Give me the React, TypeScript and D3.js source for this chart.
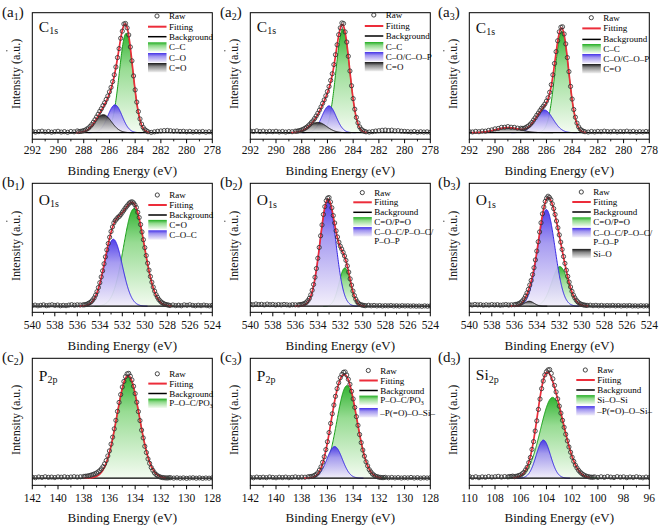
import React from "react";
import * as d3 from "d3";

// ---------- tick labels ----------
const cTicks = [292, 290, 288, 286, 284, 282, 280, 278];
const oTicks = [540, 538, 536, 534, 532, 530, 528, 526, 524];
const pTicks = [142, 140, 138, 136, 134, 132, 130, 128];
const siTicks = [110, 108, 106, 104, 102, 100, 98, 96];

// ---------- raw spectra: intensity (a.u.) every 0.25 eV from the left axis end ----------
const a1Raw = [1.2, 0.6, 1.0, 1.4, 0.7, 1.1, 0.5, 0.9, 1.3, 0.6, 1.0, 0.4, 1.1, 0.8, 1.6, 1.2, 1.9, 3.4, 5.8, 9.6, 14.4, 19.6, 24.8, 30.5, 37.4, 46.8, 60.2, 77.0, 93.0, 100.0, 89.5, 65.8, 39.2, 19.4, 7.9, 2.8, 0.9, 0.3, 0.8, 1.3, 1.6, 1.9, 2.1, 1.8, 1.4, 1.6, 1.1, 1.3, 0.8, 1.2, 0.6, 1.0, 0.7, 1.1, 0.5, 0.9, 0.6];
const a2Raw = [1.5, 1.1, 1.7, 1.0, 1.4, 0.8, 1.2, 0.9, 1.3, 0.7, 1.1, 0.6, 1.0, 0.9, 1.4, 1.8, 2.6, 4.0, 6.2, 9.3, 13.0, 17.8, 23.6, 30.0, 37.8, 47.9, 62.4, 80.5, 96.0, 100.0, 83.0, 56.5, 31.2, 14.0, 5.4, 1.9, 0.8, 0.6, 1.0, 1.5, 1.8, 2.2, 2.4, 2.0, 2.3, 1.7, 1.9, 1.4, 1.2, 1.0, 0.7, 1.1, 0.5, 0.9, 0.6, 0.8, 0.4];
const a3Raw = [1.0, 0.7, 1.2, 0.9, 1.5, 1.4, 2.1, 2.6, 3.5, 3.9, 4.9, 5.0, 5.6, 5.0, 4.9, 4.2, 4.1, 4.0, 5.5, 7.8, 11.6, 16.0, 20.3, 24.2, 28.9, 37.0, 53.0, 74.2, 92.4, 97.0, 81.3, 55.9, 30.8, 14.2, 5.4, 2.0, 0.9, 0.6, 1.1, 0.7, 1.2, 0.9, 1.4, 1.0, 0.8, 1.3, 0.7, 1.1, 0.9, 1.4, 0.8, 1.2, 0.6, 1.0, 0.7, 1.1, 0.8];
const b1Raw = [0.6, 1.0, 0.4, 0.8, 1.2, 0.5, 0.9, 1.3, 0.7, 1.1, 0.4, 0.8, 0.5, 1.0, 1.4, 0.9, 1.3, 1.1, 1.2, 1.5, 2.6, 4.3, 7.6, 13.3, 21.5, 32.4, 45.2, 57.4, 68.4, 76.3, 80.0, 82.4, 85.9, 89.6, 92.8, 95.3, 94.6, 90.4, 81.2, 68.0, 53.6, 39.4, 27.2, 17.5, 10.6, 6.1, 3.4, 1.9, 1.2, 0.6, 1.1, 0.5, 0.9, 0.4, 1.2, 0.8, 1.3, 0.7, 0.4, 0.9, 0.5, 1.0, 0.6, 0.3, 0.8];
const b2Raw = [1.8, 1.3, 2.0, 1.5, 1.7, 1.2, 1.9, 1.4, 1.6, 1.1, 1.5, 1.2, 1.6, 1.3, 1.0, 1.4, 1.3, 1.2, 1.6, 2.1, 3.7, 7.2, 14.6, 26.5, 43.9, 64.5, 84.0, 96.6, 99.5, 90.1, 76.2, 63.4, 55.0, 49.3, 42.0, 31.2, 19.3, 9.8, 4.1, 1.6, 0.9, 0.5, 0.8, 0.4, 0.7, 0.3, 0.6, 0.2, 0.5, 0.3, 0.6, 0.2, 0.4, 0.1, 0.5, 0.2, 0.4, 0.1, 0.3, 0.0, 0.2, -0.1, 0.3, 0.0, 0.2];
const b3Raw = [1.5, 1.1, 1.6, 1.2, 1.4, 0.9, 1.3, 1.0, 1.5, 1.1, 1.4, 0.9, 1.2, 1.5, 1.1, 1.3, 1.4, 1.8, 2.9, 5.1, 9.3, 15.4, 23.6, 35.2, 50.5, 68.0, 84.6, 96.0, 100.7, 97.6, 89.4, 78.0, 65.3, 52.0, 39.2, 27.3, 17.6, 10.3, 5.6, 2.9, 1.6, 1.0, 0.7, 0.9, 0.5, 0.8, 0.4, 0.7, 0.3, 0.6, 0.4, 0.7, 0.3, 0.6, 0.2, 0.5, 0.3, 0.6, 0.2, 0.4, 0.1, 0.5, 0.2, 0.4, 0.1];
const c2Raw = [0.9, 0.5, 1.1, 0.7, 1.3, 0.8, 1.0, 0.6, 1.2, 0.9, 1.3, 0.8, 1.1, 1.4, 1.0, 1.3, 1.6, 1.9, 2.6, 3.5, 4.8, 7.0, 10.6, 16.2, 25.0, 37.6, 53.0, 69.4, 83.5, 93.0, 96.0, 90.0, 77.5, 61.0, 44.0, 29.2, 17.6, 9.8, 4.9, 2.2, 0.9, 0.4, 0.2, 0.5, 0.1, 0.4, 0.0, 0.3, -0.1, 0.2, 0.4, 0.0, 0.3, -0.1, 0.2, 0.0, 0.3];
const c3Raw = [0.8, 0.4, 1.0, 0.6, 0.9, 0.5, 1.1, 0.7, 0.4, 0.9, 0.6, 1.0, 0.5, 0.8, 1.2, 0.7, 1.0, 0.9, 1.3, 1.6, 2.6, 5.0, 10.4, 19.6, 33.4, 50.2, 67.0, 82.0, 92.0, 97.0, 94.5, 86.0, 72.6, 56.4, 40.0, 25.8, 15.0, 7.9, 3.9, 1.7, 0.9, 0.5, 0.8, 0.4, 0.7, 0.3, 0.6, 0.2, 0.5, 0.3, 0.7, 0.2, 0.5, 0.1, 0.4, 0.2, 0.5];
const d3Raw = [1.6, 0.7, 1.3, 0.5, 1.2, 0.9, 1.5, 1.0, 1.3, 1.7, 1.1, 1.5, 1.2, 1.6, 1.4, 2.0, 3.0, 5.4, 10.0, 19.0, 33.5, 52.5, 72.5, 89.0, 97.5, 99.5, 91.0, 79.0, 66.0, 53.0, 40.2, 28.6, 19.2, 12.0, 7.2, 4.2, 2.3, 1.4, 0.9, 1.2, 0.7, 1.3, 0.8, 1.5, 1.0, 0.6, 1.4, 0.9, 1.2, 0.5, 1.1, 0.7, 1.3, 0.8, 0.4, 1.0, 0.6];

// ---------- extra raw points in the peak regions (every 0.25 eV, starting at the given energy) ----------
const a1MidStart = 288.375;
const a1Mid = [1.0, 1.5, 2.4, 4.3, 7.5, 11.9, 16.9, 22.0, 27.4, 33.6, 41.5, 53.0, 68.8, 86.5, 99.6, 96.0, 78.5, 52.0, 28.0, 12.6, 4.8, 1.7];
const a2MidStart = 288.375;
const a2Mid = [1.3, 2.0, 3.2, 5.0, 7.6, 10.9, 15.3, 20.6, 26.9, 33.8, 42.3, 54.0, 71.4, 89.8, 100.5, 92.3, 70.0, 43.0, 21.5, 9.0, 3.3, 1.2];
const a3MidStart = 287.875;
const a3Mid = [3.9, 4.6, 6.4, 9.4, 13.6, 18.0, 22.4, 26.2, 32.0, 44.0, 63.4, 84.2, 96.6, 90.4, 68.8, 42.4, 21.2, 8.8, 3.3, 1.3];
const b1MidStart = 535.375;
const b1Mid = [1.3, 1.9, 3.3, 5.8, 10.2, 17.1, 26.8, 38.8, 51.6, 63.2, 72.6, 78.5, 81.5, 84.0, 87.7, 91.3, 94.4, 95.6, 92.8, 86.0, 74.8, 60.9, 46.4, 33.0, 22.0, 13.8, 8.2, 4.7, 2.7, 1.6, 1.0];
const b2MidStart = 535.625;
const b2Mid = [1.4, 1.8, 2.8, 5.2, 10.4, 19.9, 34.5, 53.8, 74.4, 91.2, 99.0, 95.5, 83.0, 69.0, 58.6, 52.3, 46.0, 36.9, 25.0, 13.9, 6.4, 2.6, 1.2, 0.6];
const b3MidStart = 535.875;
const b3Mid = [1.6, 2.2, 3.8, 6.9, 12.1, 19.4, 29.0, 42.4, 59.0, 76.4, 90.8, 99.0, 99.6, 93.8, 84.0, 71.8, 58.7, 45.5, 33.0, 22.1, 13.6, 7.7, 4.1, 2.1, 1.2, 0.8];
const c2MidStart = 137.875;
const c2Mid = [1.8, 2.2, 3.0, 4.1, 5.8, 8.6, 13.2, 20.4, 31.2, 45.2, 61.2, 76.6, 88.6, 95.6, 93.4, 84.2, 69.6, 52.8, 36.9, 23.5, 13.6, 7.2, 3.4, 1.5, 0.6, 0.3, 0.4];
const c3MidStart = 137.375;
const c3Mid = [1.4, 1.9, 3.5, 7.4, 14.6, 26.2, 41.8, 59.0, 75.0, 87.4, 95.0, 97.3, 90.6, 79.6, 64.8, 48.4, 32.6, 20.2, 11.3, 5.8, 2.8, 1.4, 0.7, 0.6];
const d3MidStart = 106.875;
const d3Mid = [1.5, 1.9, 1.7, 2.6, 4.2, 7.6, 14.3, 26.4, 43.2, 63.0, 82.0, 94.6, 99.2, 96.0, 85.0, 72.6, 59.6, 46.6, 34.2, 23.8, 15.4, 9.4, 5.6, 3.2, 1.8, 1.1, 0.9];

// ---------- fitted components: [centre eV, height a.u., FWHM eV] ----------
type Peak = [number, number, number];
const a1Peaks: Peak[] = [[284.7, 91, 1.25], [285.57, 25.5, 1.3], [286.48, 16.5, 1.5]];
const a2Peaks: Peak[] = [[284.8, 95, 1.25], [285.88, 24.6, 1.3], [286.74, 9.4, 1.6]];
const a3Peaks: Peak[] = [[284.8, 93, 1.25], [286.17, 20.8, 1.6], [289.0, 4.6, 2.2]];
const b1Peaks: Peak[] = [[530.96, 89.4, 2.2], [532.8, 61.3, 1.9]];
const b2Peaks: Peak[] = [[531.6, 35, 1.2], [533.1, 97.5, 1.65]];
const b3Peaks: Peak[] = [[531.95, 36.3, 1.7], [533.15, 88.5, 1.8], [534.67, 4.5, 1.0]];
const c2Peaks: Peak[] = [[134.55, 94, 2.05]];
const c3Peaks: Peak[] = [[134.48, 84.8, 1.89], [135.44, 29, 1.4]];
const d3Peaks: Peak[] = [[103.52, 74, 2.2], [104.24, 34.9, 1.3]];

// ---------- legend labels ----------
const a1Legend = ["Raw", "Fitting", "Background", "C–C", "C–O", "C=O"];
const a2Legend = ["Raw", "Fitting", "Background", "C–C", "C–O/C–O–P", "C=O"];
const a3Legend = ["Raw", "Fitting", "Background", "C–C", "C–O/C–O–P", "C=O"];
const b1Legend = ["Raw", "Fitting", "Background", "C=O", "C–O–C"];
const b2Legend = ["Raw", "Fitting", "Background", "C=O/P=O", "C–O–C/P–O–C/\nP–O–P"];
const b3Legend = ["Raw", "Fitting", "Background", "C=O/P=O", "C–O–C/P–O–C/\nP–O–P", "Si–O"];
const c2Legend = ["Raw", "Fitting", "Background", "P–O–C/PO_3"];
const c3Legend = ["Raw", "Fitting", "Background", "P–O–C/PO_3", "–P(=O)–O–Si–"];
const d3Legend = ["Raw", "Fitting", "Background", "Si–O–Si", "–P(=O)–O–Si–"];

// ---------- layout / style ----------
const FONT = "'Liberation Serif','Times New Roman',Times,serif";
const COLS = [32.3, 250.3, 469.3];
const ROW_TOP = [12.7, 183.3, 358.3];
const ROW_H = [126.5, 129, 127];
const ROW_BASE = [6.5, 6.1, 7.1];
const TICK_BASE = [154, 329, 502];
const TITLE_BASE = [175, 349.5, 521.5];
const BOX_W = 180;
const PX_PER_UNIT = 1.092;
const STEP = 0.25;

type Kind = "g" | "b" | "k";
const STYLE: Record<Kind, { stroke: string; stops: [string, string][] }> = {
  g: { stroke: "#179e17", stops: [["0%", "#22ad22"], ["35%", "#8fd98a"], ["100%", "#f3fbf0"]] },
  b: { stroke: "#3526e2", stops: [["0%", "#4331e8"], ["35%", "#a094f0"], ["100%", "#f2eefa"]] },
  k: { stroke: "#111111", stops: [["0%", "#151515"], ["35%", "#878787"], ["100%", "#f2f2f2"]] },
};

interface Cfg {
  key: string; letter: string; sub: string; elem: string; elemSub: string;
  col: number; row: number; xDomain: [number, number]; ticks: number[];
  raw: number[]; mid: number[]; midStart: number; peaks: Peak[]; kinds: Kind[]; fitRange: [number, number];
  legend: string[]; legendX: number; legendRows: number[]; elemBase: number;
}

const panels: Cfg[] = [
  { key: "a1", letter: "a", sub: "1", elem: "C", elemSub: "1s", col: 0, row: 0, xDomain: [292, 278], ticks: cTicks, raw: a1Raw, mid: a1Mid, midStart: a1MidStart, peaks: a1Peaks, kinds: ["g", "b", "k"], fitRange: [288.6, 282.9], legend: a1Legend, legendX: 115.7, legendRows: [3.3, 14, 24, 34.3, 45, 55], elemBase: 19 },
  { key: "a2", letter: "a", sub: "2", elem: "C", elemSub: "1s", col: 1, row: 0, xDomain: [292, 278], ticks: cTicks, raw: a2Raw, mid: a2Mid, midStart: a2MidStart, peaks: a2Peaks, kinds: ["g", "b", "k"], fitRange: [288.8, 282.9], legend: a2Legend, legendX: 114.5, legendRows: [2.3, 13.3, 23.3, 34, 44, 54], elemBase: 19 },
  { key: "a3", letter: "a", sub: "3", elem: "C", elemSub: "1s", col: 2, row: 0, xDomain: [292, 278], ticks: cTicks, raw: a3Raw, mid: a3Mid, midStart: a3MidStart, peaks: a3Peaks, kinds: ["g", "b", "k"], fitRange: [291.8, 282.9], legend: a3Legend, legendX: 113, legendRows: [5, 15.7, 26.7, 36, 46, 56], elemBase: 20 },
  { key: "b1", letter: "b", sub: "1", elem: "O", elemSub: "1s", col: 0, row: 1, xDomain: [540, 524], ticks: oTicks, raw: b1Raw, mid: b1Mid, midStart: b1MidStart, peaks: b1Peaks, kinds: ["g", "b"], fitRange: [535.8, 527.6], legend: b1Legend, legendX: 116, legendRows: [11.7, 21.7, 31.7, 41.3, 51.7], elemBase: 21.5 },
  { key: "b2", letter: "b", sub: "2", elem: "O", elemSub: "1s", col: 1, row: 1, xDomain: [540, 524], ticks: oTicks, raw: b2Raw, mid: b2Mid, midStart: b2MidStart, peaks: b2Peaks, kinds: ["g", "b"], fitRange: [536.0, 529.8], legend: b2Legend, legendX: 103, legendRows: [9.3, 19, 29, 38.5, 48.5], elemBase: 22 },
  { key: "b3", letter: "b", sub: "3", elem: "O", elemSub: "1s", col: 2, row: 1, xDomain: [540, 524], ticks: oTicks, raw: b3Raw, mid: b3Mid, midStart: b3MidStart, peaks: b3Peaks, kinds: ["g", "b", "k"], fitRange: [536.4, 529.4], legend: b3Legend, legendX: 103, legendRows: [8.7, 18.7, 28.7, 38.7, 49.3, 70.3], elemBase: 22 },
  { key: "c2", letter: "c", sub: "2", elem: "P", elemSub: "2p", col: 0, row: 2, xDomain: [142, 128], ticks: pTicks, raw: c2Raw, mid: c2Mid, midStart: c2MidStart, peaks: c2Peaks, kinds: ["g"], fitRange: [138.0, 131.6], legend: c2Legend, legendX: 116, legendRows: [15.5, 25.3, 35.2, 45], elemBase: 22.5 },
  { key: "c3", letter: "c", sub: "3", elem: "P", elemSub: "2p", col: 1, row: 2, xDomain: [142, 128], ticks: pTicks, raw: c3Raw, mid: c3Mid, midStart: c3MidStart, peaks: c3Peaks, kinds: ["g", "b"], fitRange: [137.8, 131.8], legend: c3Legend, legendX: 109, legendRows: [12.2, 22.2, 32.2, 42, 54.4], elemBase: 22.5 },
  { key: "d3", letter: "d", sub: "3", elem: "Si", elemSub: "2p", col: 2, row: 2, xDomain: [110, 96], ticks: siTicks, raw: d3Raw, mid: d3Mid, midStart: d3MidStart, peaks: d3Peaks, kinds: ["g", "b"], fitRange: [106.6, 100.6], legend: d3Legend, legendX: 107, legendRows: [11.7, 21.7, 31.7, 41.5, 52.5], elemBase: 22 },
];

const gauss = (x: number, p: Peak) => p[1] * Math.exp((-4 * Math.LN2 * (x - p[0]) * (x - p[0])) / (p[2] * p[2]));

function LegendLabel({ label, x, y }: { label: string; x: number; y: number }) {
  const lines = label.split("\n");
  return (
    <g>
      {lines.map((ln, li) => {
        const parts = ln.split("_");
        return (
          <text key={li} x={x} y={y + 3 + li * 9.5} fontSize={9} fontFamily={FONT} fill="#000">
            {parts[0]}
            {parts[1] ? <tspan fontSize={6} dy={1.5}>{parts[1]}</tspan> : null}
          </text>
        );
      })}
    </g>
  );
}

function Panel({ cfg }: { cfg: Cfg }) {
  const left = COLS[cfg.col];
  const top = ROW_TOP[cfg.row];
  const h = ROW_H[cfg.row];
  const bottom = top + h;
  const base = bottom - ROW_BASE[cfg.row];
  const x = d3.scaleLinear().domain(cfg.xDomain).range([left, left + BOX_W]);
  const y = d3.scaleLinear().domain([0, 100]).range([base, base - 100 * PX_PER_UNIT]);
  const clipId = "clip-" + cfg.key;

  const area = d3.area<[number, number]>().x((d) => x(d[0])).y0(y(0)).y1((d) => y(d[1]));
  const line = d3.line<[number, number]>().x((d) => x(d[0])).y((d) => y(d[1]));

  const comps = cfg.peaks.map((p, i) => {
    const lo = p[0] - 1.6 * p[2];
    const hi = p[0] + 1.6 * p[2];
    const pts: [number, number][] = d3.range(lo, hi + 0.001, 0.02).map((e) => [e, gauss(e, p)] as [number, number]);
    return { kind: cfg.kinds[i], d: area(pts)!, l: line(pts)! };
  });

  const fitPts: [number, number][] = d3
    .range(cfg.fitRange[1], cfg.fitRange[0] + 0.001, 0.02)
    .map((e) => [e, d3.sum(cfg.peaks, (p) => gauss(e, p))] as [number, number]);

  const rawPts = [
    ...cfg.raw.map((v, i) => [cfg.xDomain[0] - i * STEP, v] as [number, number]),
    ...cfg.mid.map((v, i) => [cfg.midStart - i * STEP, v] as [number, number]),
  ];
  const minor = d3.range(Math.min(...cfg.xDomain) + 1, Math.max(...cfg.xDomain), 2);

  const lx = left + cfg.legendX;
  const labelX = [2, 220, 438][cfg.col];

  return (
    <g>
      <clipPath id={clipId}>
        <rect x={left} y={top} width={BOX_W} height={h} />
      </clipPath>
      <g clipPath={`url(#${clipId})`}>
        {comps.map((c, i) => (
          <g key={i}>
            <path d={c.d} fill={`url(#grad-${c.kind})`} fillOpacity={0.92} />
            <path d={c.l} fill="none" stroke={STYLE[c.kind].stroke} strokeWidth={1} />
          </g>
        ))}
        <line x1={left} x2={left + BOX_W} y1={y(0)} y2={y(0)} stroke="#000" strokeWidth={1.2} />
        <path d={line(fitPts)!} fill="none" stroke="#ec2d3a" strokeWidth={1.7} />
        {rawPts.map((p, i) => (
          <circle key={i} cx={x(p[0])} cy={y(p[1])} r={2.1} fill="none" stroke="#333" strokeWidth={0.85} />
        ))}
      </g>
      <rect x={left} y={top} width={BOX_W} height={h} fill="none" stroke="#000" strokeWidth={1} />
      {minor.map((t) => (
        <line key={"m" + t} x1={x(t)} x2={x(t)} y1={bottom} y2={bottom + 2.2} stroke="#000" strokeWidth={0.9} />
      ))}
      {cfg.ticks.map((t) => (
        <g key={t}>
          <line x1={x(t)} x2={x(t)} y1={bottom} y2={bottom + 4} stroke="#000" strokeWidth={1} />
          <text x={x(t)} y={TICK_BASE[cfg.row]} textAnchor="middle" fontSize={11.5} fontFamily={FONT} fill="#111">
            {t}
          </text>
        </g>
      ))}
      <text x={left + BOX_W / 2} y={TITLE_BASE[cfg.row]} textAnchor="middle" fontSize={13} fontFamily={FONT} fill="#111">
        Binding Energy (eV)
      </text>
      <text
        transform={`translate(${left - 12.5},${top + h / 2 - 2}) rotate(-90)`}
        textAnchor="middle"
        fontSize={12}
        fontFamily={FONT}
        fill="#111"
      >
        Intensity (a.u.)
      </text>
      {cfg.row < 2 ? <circle cx={left - 25.5} cy={top + 38} r={0.8} fill="#666" /> : null}
      <text x={labelX} y={top + 4} fontSize={15} fontFamily={FONT} fill="#111">
        ({cfg.letter}
        <tspan fontSize={10} dy={3}>{cfg.sub}</tspan>
        <tspan dy={-3}>)</tspan>
      </text>
      <text x={left + 6.5} y={top + cfg.elemBase} fontSize={15.5} fontFamily={FONT} fill="#111">
        {cfg.elem}
        <tspan fontSize={10} dy={2.5}>{cfg.elemSub}</tspan>
      </text>
      {cfg.legend.map((lab, i) => {
        const cy = top + cfg.legendRows[i];
        let sym: React.ReactNode = null;
        if (i === 0) sym = <circle cx={lx + 9} cy={cy} r={2.1} fill="none" stroke="#333" strokeWidth={0.9} />;
        else if (i === 1) sym = <line x1={lx} x2={lx + 18.5} y1={cy} y2={cy} stroke="#ec2d3a" strokeWidth={2} />;
        else if (i === 2) sym = <line x1={lx} x2={lx + 18.5} y1={cy} y2={cy} stroke="#000" strokeWidth={1.5} />;
        else sym = <rect x={lx} y={cy - 4.7} width={18.5} height={9.4} fill={`url(#grad-${cfg.kinds[i - 3]})`} />;
        return (
          <g key={i}>
            {sym}
            <LegendLabel label={lab} x={lx + 21} y={cy} />
          </g>
        );
      })}
    </g>
  );
}

export default function App() {
  return (
    <svg
      width={659}
      height={526}
      viewBox="0 0 659 526"
      style={{ position: "absolute", left: 0, top: 0, background: "#fff" }}
    >
      <defs>
        {(Object.keys(STYLE) as Kind[]).map((k) => (
          <linearGradient key={k} id={`grad-${k}`} x1="0" y1="0" x2="0" y2="1">
            {STYLE[k].stops.map((s, i) => (
              <stop key={i} offset={s[0]} stopColor={s[1]} />
            ))}
          </linearGradient>
        ))}
      </defs>
      <rect x={0} y={0} width={659} height={526} fill="#fff" />
      {panels.map((p) => (
        <Panel key={p.key} cfg={p} />
      ))}
    </svg>
  );
}
